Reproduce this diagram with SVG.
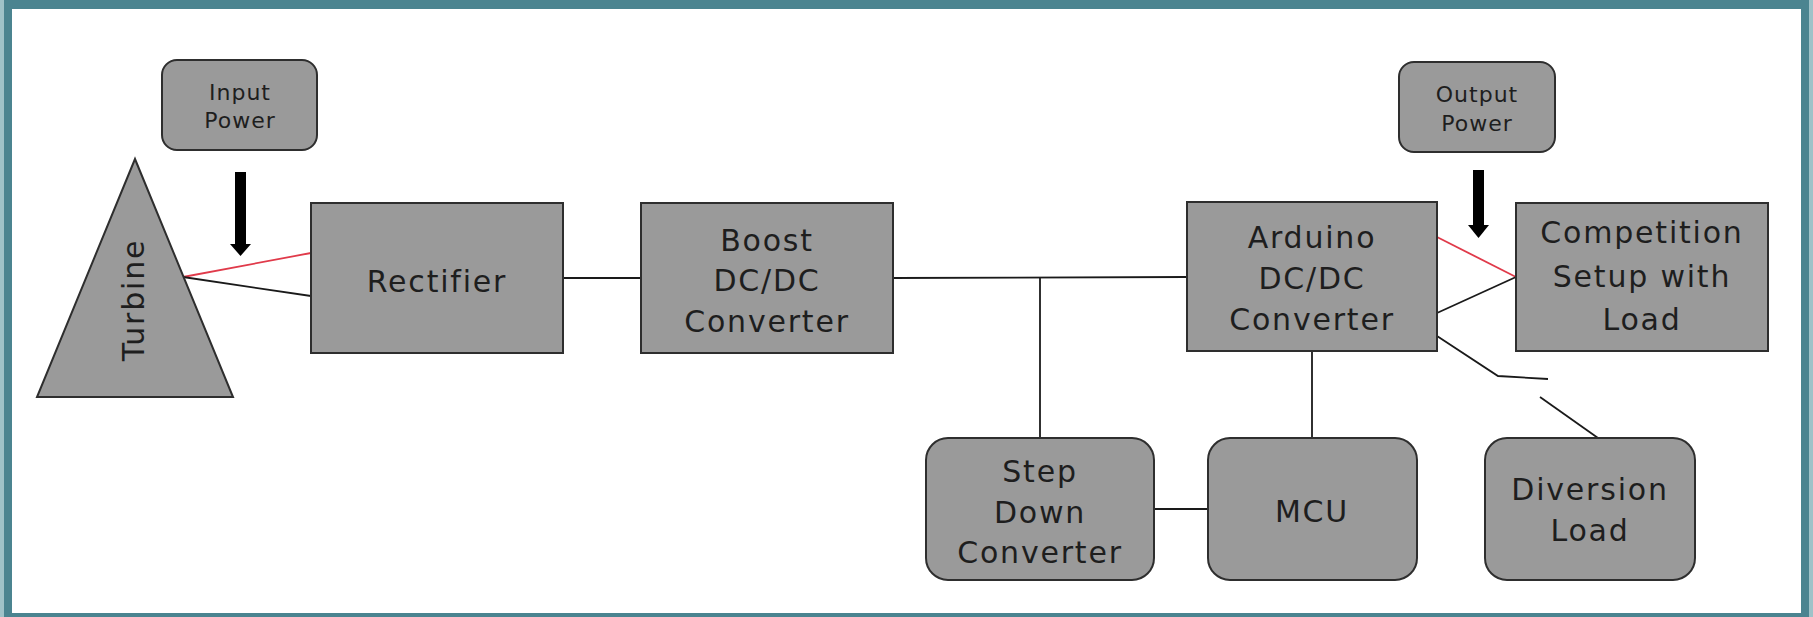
<svg xmlns="http://www.w3.org/2000/svg" width="1813" height="617" viewBox="0 0 1813 617">
<defs>
<style>
.box{fill:#9a9a9a;stroke:#2e2e2e;stroke-width:2}
.t{font-family:"DejaVu Sans","Liberation Sans",sans-serif;font-size:30px;letter-spacing:1.8px;fill:#1e1e1e;text-anchor:middle}
.s{font-family:"DejaVu Sans","Liberation Sans",sans-serif;font-size:22px;letter-spacing:1px;fill:#1e1e1e;text-anchor:middle}
.w{stroke:#1a1a1a;stroke-width:1.8;fill:none}
.r{stroke:#e03a4a;stroke-width:1.8;fill:none}
</style>
</defs>
<rect x="0" y="0" width="1813" height="617" fill="#4b8490"/>
<rect x="0" y="0" width="4" height="617" fill="#9fc2c8"/>
<rect x="1809" y="0" width="4" height="617" fill="#9fc2c8"/>
<rect x="12" y="9" width="1789" height="604" fill="#ffffff"/>

<g id="connectors">
<line class="r" x1="183" y1="277" x2="311" y2="253"/>
<line class="w" x1="183" y1="277" x2="311" y2="296"/>
<line class="w" x1="563" y1="278" x2="641" y2="278"/>
<line class="w" x1="893" y1="278" x2="1187" y2="277"/>
<line class="w" x1="1040" y1="278" x2="1040" y2="438"/>
<line class="w" x1="1154" y1="509" x2="1208" y2="509"/>
<line class="w" x1="1312" y1="351" x2="1312" y2="438"/>
<line class="r" x1="1437" y1="237" x2="1516" y2="277"/>
<line class="w" x1="1437" y1="313" x2="1516" y2="277"/>
<polyline class="w" points="1437,336 1498,376 1548,379"/>
<line class="w" x1="1540" y1="397" x2="1598" y2="438"/>
<g id="arrow-in" fill="#000">
<rect x="235" y="172" width="11" height="74"/>
<polygon points="230,244 251,244 240.5,256"/>
</g>
<g id="arrow-out" fill="#000">
<rect x="1473" y="170" width="11" height="57"/>
<polygon points="1468,225 1489,225 1478.5,238"/>
</g>
</g>

<g id="input-power">
<rect class="box" x="162" y="60" width="155" height="90" rx="15"/>
<text class="s" x="240" y="100">Input</text>
<text class="s" x="240" y="128">Power</text>
</g>

<g id="output-power">
<rect class="box" x="1399" y="62" width="156" height="90" rx="15"/>
<text class="s" x="1477" y="102">Output</text>
<text class="s" x="1477" y="131">Power</text>
</g>

<g id="turbine">
<polygon class="box" points="135,159 233,397 37,397"/>
<text class="t" transform="translate(144,300) rotate(-90)">Turbine</text>
</g>

<g id="rectifier">
<rect class="box" x="311" y="203" width="252" height="150"/>
<text class="t" x="437" y="292">Rectifier</text>
</g>

<g id="boost">
<rect class="box" x="641" y="203" width="252" height="150"/>
<text class="t" x="767" y="251">Boost</text>
<text class="t" x="767" y="291">DC/DC</text>
<text class="t" x="767" y="332">Converter</text>
</g>

<g id="arduino">
<rect class="box" x="1187" y="202" width="250" height="149"/>
<text class="t" x="1312" y="248">Arduino</text>
<text class="t" x="1312" y="289">DC/DC</text>
<text class="t" x="1312" y="330">Converter</text>
</g>

<g id="competition">
<rect class="box" x="1516" y="203" width="252" height="148"/>
<text class="t" x="1642" y="243">Competition</text>
<text class="t" x="1642" y="287">Setup with</text>
<text class="t" x="1642" y="330">Load</text>
</g>

<g id="step-down">
<rect class="box" x="926" y="438" width="228" height="142" rx="22"/>
<text class="t" x="1040" y="482">Step</text>
<text class="t" x="1040" y="523">Down</text>
<text class="t" x="1040" y="563">Converter</text>
</g>

<g id="mcu">
<rect class="box" x="1208" y="438" width="209" height="142" rx="22"/>
<text class="t" x="1312" y="522">MCU</text>
</g>

<g id="diversion">
<rect class="box" x="1485" y="438" width="210" height="142" rx="22"/>
<text class="t" x="1590" y="500">Diversion</text>
<text class="t" x="1590" y="541">Load</text>
</g>
</svg>
